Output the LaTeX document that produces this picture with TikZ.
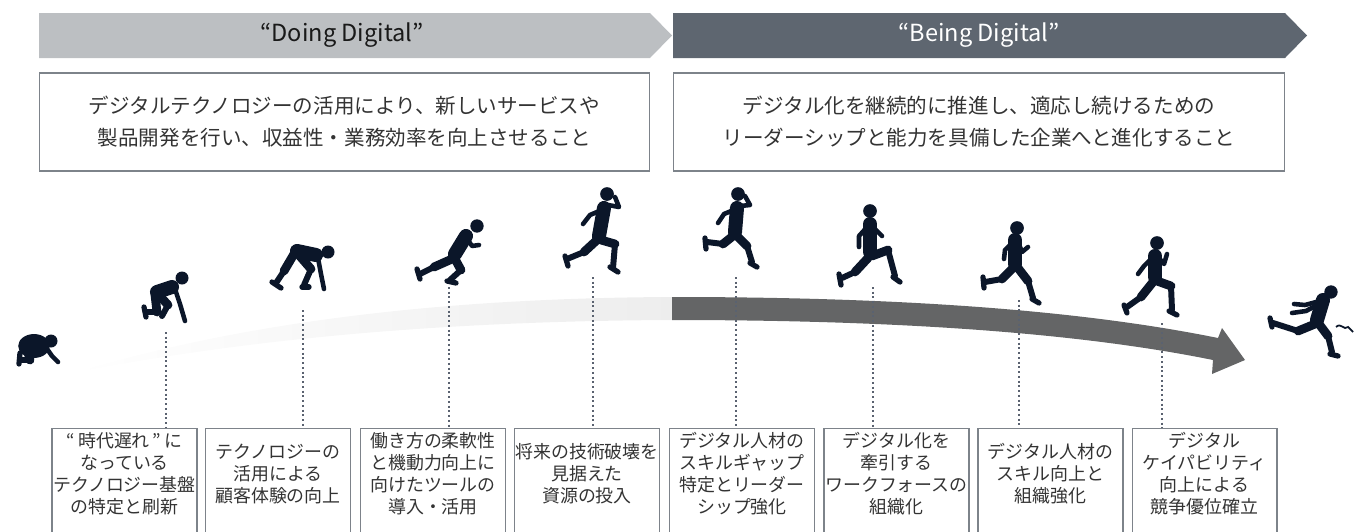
\documentclass[tikz,border=0pt]{standalone}
\usepackage{fontspec}
\setmainfont{Noto Sans CJK JP}
\usetikzlibrary{positioning}

\definecolor{ink}{RGB}{11,22,41}
\definecolor{doinggray}{RGB}{188,191,194}
\definecolor{beingslate}{RGB}{94,102,112}
\definecolor{arrowgray}{RGB}{100,101,102}
\definecolor{boxline}{RGB}{125,131,138}
\definecolor{guideline}{RGB}{90,98,112}
\definecolor{textgray}{RGB}{51,51,51}

\tikzset{
  banner text/.style={font=\fontsize{13.4}{15}\selectfont},
  aim box/.style={draw=boxline, line width=0.6pt, minimum width=12.22cm, minimum height=1.96cm,
    align=center, text=textgray, font=\fontsize{11.7}{18.2}\selectfont},
  stepbox/.style={draw=boxline, line width=0.6pt, minimum width=2.9cm, minimum height=2.4cm, anchor=north},
  steptext/.style={align=center, text=textgray, font=\fontsize{10.2}{12.5}\selectfont},
  guide/.style={draw=guideline, line width=1.1pt, dash pattern=on 1.1pt off 1.6pt},
  trunk/.style={draw=ink, line width=8pt, line cap=round},
  thigh/.style={draw=ink, line width=5pt, line cap=round, line join=round},
  shin/.style={draw=ink, line width=3.4pt, line cap=round, line join=round},
  arm/.style={draw=ink, line width=2.6pt, line cap=round, line join=round},
  foot/.style={draw=ink, line width=3pt, line cap=round},
}

\begin{document}
\begin{tikzpicture}[x=0.02cm, y=-0.02cm]

\useasboundingbox (0,0) rectangle (1359,531);
\clip (0,0) rectangle (1359,531);

% phase banners
\fill[doinggray] (39,13) -- (650,13) -- (672,35.5) -- (650,58) -- (39,58) -- cycle;
\fill[beingslate] (673,13) -- (1285,13) -- (1307,35.5) -- (1285,58) -- (673,58) -- cycle;
\node[banner text, text=black!90] (doing) at (342,35.5) {“Doing Digital”};
\node[banner text, text=white] (being) at (979,35.5) {“Being Digital”};

% what each phase means
\node[aim box] (doingaim) at (344.5,122) {デジタルテクノロジーの活用により、新しいサービスや\\製品開発を行い、収益性・業務効率を向上させること};
\node[aim box] (beingaim) at (979,122) {デジタル化を継続的に推進し、適応し続けるための\\リーダーシップと能力を具備した企業へと進化すること};

% progress arrow: pale tail, dark body
\shade[left color=white, right color=black!7]
  (73,373) .. controls (250,320) and (450,298) .. (672,297)
  -- (672,320) .. controls (450,321) and (250,338) .. (73,373) -- cycle;
\fill[arrowgray]
  (672,297) .. controls (900,297) and (1080,310) .. (1218,338)
  -- (1222,328) -- (1245,360) -- (1212,374) -- (1213,360)
  .. controls (1080,333) and (900,320) .. (672,320) -- cycle;

% steps along the way
\foreach \i/\bx/\gx/\gy/\txt in {
  1/124.5/166/332/{“\,時代遅れ\,”\,に\\なっている\\テクノロジー基盤\\の特定と刷新},
  2/278/303/310/{テクノロジーの\\活用による\\顧客体験の向上},
  3/433/449/287/{働き方の柔軟性\\と機動力向上に\\向けたツールの\\導入・活用},
  4/587/593/277/{将来の技術破壊を\\見据えた\\資源の投入},
  5/742/736/277/{デジタル人材の\\スキルギャップ\\特定とリーダー\\シップ強化},
  6/896.5/873/287/{デジタル化を\\牽引する\\ワークフォースの\\組織化},
  7/1050.5/1019/300/{デジタル人材の\\スキル向上と\\組織強化},
  8/1204.5/1162/323/{デジタル\\ケイパビリティ\\向上による\\競争優位確立}}
{
  \node[stepbox] (step\i) at (\bx,428) {};
  \node[steptext] (stepnote\i) at (\bx,474) {\txt};
  \coordinate (mark\i) at (\gx,\gy);
  \draw[guide] (mark\i) -- (mark\i |- step\i.north);
}

% runners, from crouch to finish
% 1 crouched
\fill[ink] (34,346) ellipse (9pt and 6.8pt);
\fill[ink] (51,341) circle (3.7pt);
\draw[arm] (45,346) -- (52,356) -- (58,362);
\draw[thigh] (28,352) -- (30,360);
\draw[shin] (30,360) -- (22,360);
\draw[foot] (20,353) -- (19,364);

% 2 on the knee
\draw[trunk] (157,292) -- (172,287);
\fill[ink] (182,278) circle (3.7pt);
\draw[arm] (175,289) -- (180,304) -- (185,321);
\draw[thigh] (158,294) -- (168,305);
\draw[shin] (168,305) -- (162,316);
\draw[thigh] (155,295) -- (157,312);
\draw[shin] (157,312) -- (146,312);
\draw[foot] (144,307) -- (146,317);

% 3 set
\draw[trunk] (297,251) -- (316,255);
\fill[ink] (328,252) circle (3.7pt);
\draw[arm] (318,258) -- (321,274) -- (324,289);
\draw[thigh] (294,254) -- (284,271);
\draw[shin] (284,271) -- (276,283);
\draw[foot] (272,282) -- (281,288);
\draw[thigh] (298,254) -- (311,269);
\draw[shin] (311,269) -- (304,285);
\draw[foot] (302,287) -- (309,287);

% 4 first stride
\draw[trunk] (466,236) -- (455,254);
\fill[ink] (477,226) circle (3.8pt);
\draw[arm] (466,237) -- (472,246) -- (479,245);
\draw[thigh] (452,259) -- (434,267);
\draw[shin] (434,267) -- (420,274);
\draw[foot] (417,269) -- (420,279);
\draw[thigh] (455,259) -- (461,270);
\draw[shin] (461,270) -- (450,280);
\draw[foot] (447,281) -- (456,283);

% 5 sprint
\draw[trunk] (604,208) -- (599,236);
\fill[ink] (607,194) circle (3.9pt);
\draw[arm] (608,205) -- (619,207) -- (615,197);
\draw[arm] (604,209) -- (590,215) -- (583,224);
\draw[thigh] (597,240) -- (584,252);
\draw[shin] (584,252) -- (567,259);
\draw[foot] (565,256) -- (568,266);
\draw[thigh] (601,240) -- (615,244);
\draw[shin] (615,244) -- (613,268);
\draw[foot] (610,267) -- (618,272);

% 6
\draw[trunk] (737,208) -- (735,232);
\fill[ink] (738,194) circle (3.9pt);
\draw[arm] (740,206) -- (750,205) -- (745,196);
\draw[arm] (736,209) -- (724,214) -- (718,223);
\draw[thigh] (733,236) -- (723,244);
\draw[shin] (723,244) -- (707,242);
\draw[foot] (705,238) -- (706,249);
\draw[thigh] (737,236) -- (747,246);
\draw[shin] (747,246) -- (752,262);
\draw[foot] (750,263) -- (757,267);

% 7
\draw[trunk] (870,224) -- (870,252);
\fill[ink] (870,211) circle (3.9pt);
\draw[arm] (868,226) -- (859,236) -- (859,247);
\draw[arm] (872,226) -- (878,232) -- (882,236);
\draw[thigh] (868,258) -- (855,272);
\draw[shin] (855,272) -- (842,278);
\draw[foot] (839,274) -- (841,285);
\draw[thigh] (872,256) -- (888,250);
\draw[shin] (888,250) -- (895,276);
\draw[foot] (893,277) -- (900,282);

% 8
\draw[trunk] (1015,240) -- (1015,264);
\fill[ink] (1017,228) circle (3.9pt);
\draw[arm] (1013,242) -- (1005,250) -- (1004,259);
\draw[arm] (1018,242) -- (1022,252) -- (1028,247);
\draw[thigh] (1013,268) -- (1002,279);
\draw[shin] (1002,279) -- (985,282);
\draw[foot] (983,277) -- (984,288);
\draw[thigh] (1018,268) -- (1028,281);
\draw[shin] (1028,281) -- (1033,298);
\draw[foot] (1032,299) -- (1039,303);

% 9
\draw[trunk] (1155,256) -- (1155,277);
\fill[ink] (1157,243) circle (3.9pt);
\draw[arm] (1153,257) -- (1144,266) -- (1138,274);
\draw[arm] (1158,257) -- (1164,264) -- (1167,254);
\draw[thigh] (1153,282) -- (1141,297);
\draw[shin] (1141,297) -- (1127,307);
\draw[foot] (1124,305) -- (1127,313);
\draw[thigh] (1157,281) -- (1171,286);
\draw[shin] (1171,286) -- (1172,310);
\draw[foot] (1169,311) -- (1177,315);

% 10 through the tape
\draw[trunk] (1323,300) -- (1317,320);
\fill[ink] (1331,292) circle (3.8pt);
\draw[arm] (1320,301) -- (1305,305) -- (1294,304);
\draw[arm] (1319,304) -- (1306,311) -- (1292,313);
\draw[thigh] (1315,324) -- (1298,331);
\draw[shin] (1298,331) -- (1273,323);
\draw[foot] (1270,318) -- (1272,327);
\draw[thigh] (1319,324) -- (1328,336);
\draw[shin] (1328,336) -- (1332,352);
\draw[foot] (1330,354) -- (1338,356);
\draw[ink, line width=1pt] (1336,327) .. controls (1341,322) and (1344,331) .. (1348,327) -- (1353,332);

\end{tikzpicture}
\end{document}
